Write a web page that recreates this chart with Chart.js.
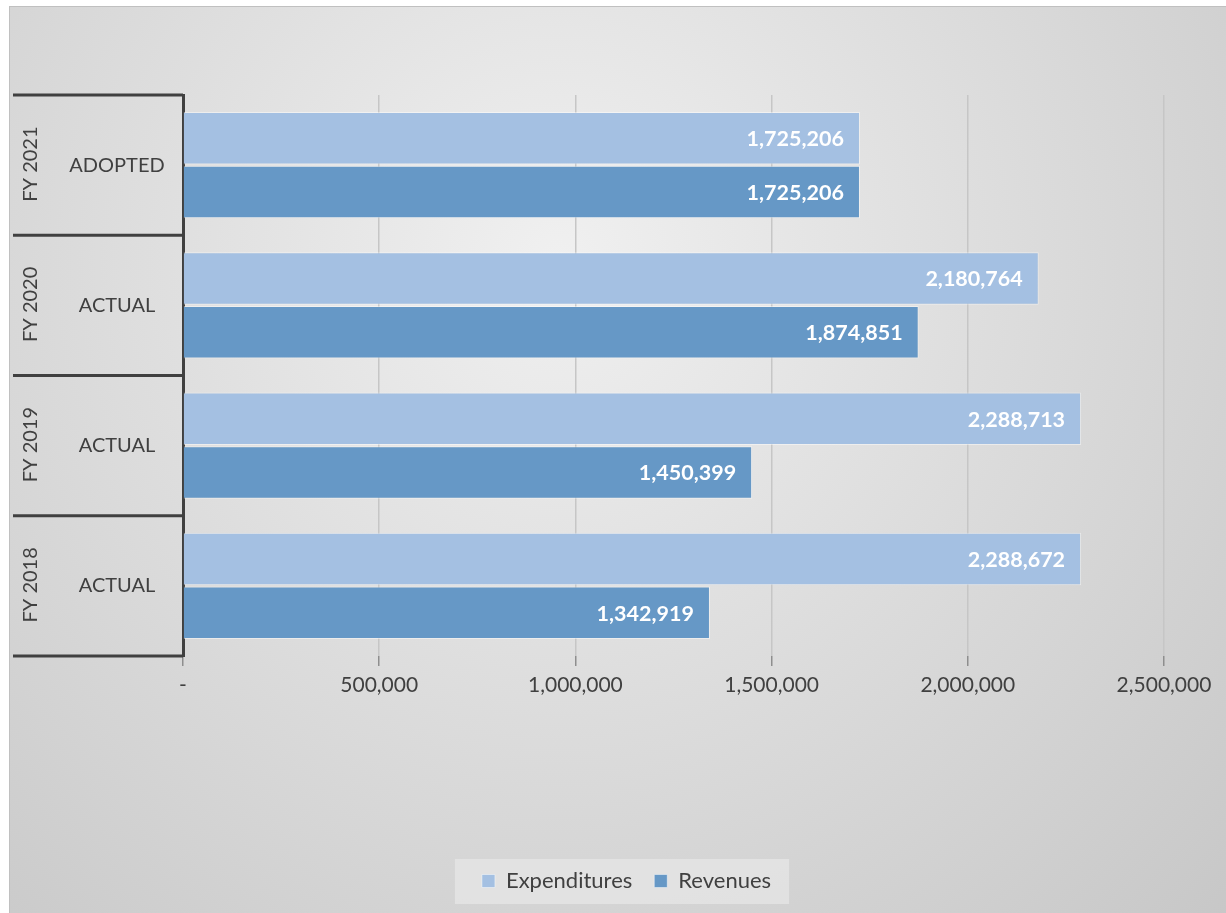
<!DOCTYPE html>
<html>
<head>
<meta charset="utf-8">
<title>Expenditures and Revenues</title>
<script src="https://cdn.jsdelivr.net/npm/chart.js@4.4.1/dist/chart.umd.min.js"></script>
<style>
    html, body { margin: 0; padding: 0; background: #ffffff; }
    #wrap {
        position: absolute; left: 9px; top: 6px;
        width: 1217px; height: 907px;
        border-top: 1px solid #c0c0c0; border-left: 1px solid #c0c0c0;
    }
</style>
</head>
<body>
<div id="wrap"><canvas id="chart"></canvas></div>
<script>
// Data (top row first)
const fiscalYears = ['FY 2021', 'FY 2020', 'FY 2019', 'FY 2018'];
const budgetTypes = ['ADOPTED', 'ACTUAL', 'ACTUAL', 'ACTUAL'];
const expenditures = [1725206, 2180764, 2288713, 2288672];
const revenues = [1725206, 1874851, 1450399, 1342919];
const xTicks = [0, 500000, 1000000, 1500000, 2000000, 2500000];

const textColor = '#404040';
const fmt = v => v === 0 ? '-' : v.toLocaleString('en-US');

document.addEventListener('DOMContentLoaded', function () {

    Chart.defaults.font.family = 'Lato';

    // Gray radial background plus the legend panel
    const backgroundPlugin = {
        id: 'background',
        afterUpdate(chart) {
            // legend sits a bit right of the plot centre in the reference
            const lg = chart.legend;
            lg.left += 38;
            lg.right += 38;
            lg.legendHitBoxes.forEach(b => { b.left += 38; });
        },
        beforeDraw(chart) {
            const ctx = chart.ctx;
            const w = chart.width, h = chart.height;
            const g = ctx.createRadialGradient(w * 0.45, h * 0.28, 0, w * 0.45, h * 0.28, w * 0.85);
            g.addColorStop(0, '#f0f0f0');
            g.addColorStop(1, '#c3c3c3');
            ctx.save();
            ctx.fillStyle = g;
            ctx.fillRect(0, 0, w, h);

            const boxes = chart.legend.legendHitBoxes;
            if (boxes && boxes.length) {
                const left = Math.min(...boxes.map(b => b.left)) - 27;
                const right = Math.max(...boxes.map(b => b.left + b.width)) + 18;
                const top = boxes[0].top - 11;
                const bottom = boxes[0].top + boxes[0].height + 12;
                ctx.fillStyle = 'rgba(236, 236, 236, 0.55)';
                ctx.fillRect(left, top, right - left, bottom - top);
            }
            ctx.restore();
        }
    };

    // Two-level category labels on the left
    const groupAxisPlugin = {
        id: 'groupAxis',
        afterDraw(chart) {
            const ctx = chart.ctx;
            const y = chart.scales.y;
            const area = chart.chartArea;
            const band = y.height / fiscalYears.length;
            ctx.save();
            ctx.strokeStyle = textColor;
            ctx.lineWidth = 3;
            for (let i = 0; i <= fiscalYears.length; i++) {
                const py = area.top + band * i;
                ctx.beginPath();
                ctx.moveTo(3, py);
                ctx.lineTo(area.left, py);
                ctx.stroke();
            }
            ctx.fillStyle = textColor;
            ctx.font = '20px Lato';
            ctx.textAlign = 'center';
            ctx.textBaseline = 'middle';
            fiscalYears.forEach((fy, i) => {
                const cy = y.getPixelForValue(i);
                ctx.fillText(budgetTypes[i], 107, cy);
                ctx.save();
                ctx.translate(21, cy - 1);
                ctx.rotate(-Math.PI / 2);
                ctx.fillText(fy, 0, 0);
                ctx.restore();
            });
            ctx.restore();
        }
    };

    // White value labels inside the bar ends
    const valueLabelPlugin = {
        id: 'valueLabels',
        afterDatasetsDraw(chart) {
            const ctx = chart.ctx;
            ctx.save();
            ctx.fillStyle = '#ffffff';
            ctx.font = 'bold 21.5px Lato';
            ctx.textAlign = 'right';
            ctx.textBaseline = 'middle';
            chart.data.datasets.forEach((ds, di) => {
                chart.getDatasetMeta(di).data.forEach((bar, i) => {
                    ctx.fillText(fmt(ds.data[i]), bar.x - 16, bar.y + 1);
                });
            });
            ctx.restore();
        }
    };

    const ctx = document.getElementById('chart').getContext('2d');
    const chart = new Chart(ctx, {
        type: 'bar',
        data: {
            labels: fiscalYears.map((fy, i) => fy + ' ' + budgetTypes[i]),
            datasets: [{
                label: 'Expenditures',
                data: expenditures,
                backgroundColor: '#a4c0e2',
                borderColor: 'rgba(255, 255, 255, 0.45)',
                borderWidth: 1
            },
            {
                label: 'Revenues',
                data: revenues,
                backgroundColor: '#6698c6',
                borderColor: 'rgba(255, 255, 255, 0.45)',
                borderWidth: 1
            }]
        },
        options: {
            indexAxis: 'y',
            responsive: true,
            maintainAspectRatio: false,
            animation: false,
            categoryPercentage: 0.765,
            barPercentage: 0.98,
            layout: { padding: { left: 3, top: 88, right: 63, bottom: 12 } },
            plugins: {
                tooltip: { enabled: false },
                legend: {
                    position: 'bottom',
                    labels: {
                        color: textColor,
                        font: { size: 22 },
                        boxWidth: 13,
                        boxHeight: 13,
                        padding: 22
                    }
                }
            },
            scales: {
                x: {
                    min: xTicks[0],
                    max: xTicks[xTicks.length - 1],
                    afterBuildTicks: s => { s.ticks = xTicks.map(v => ({ value: v })); },
                    ticks: {
                        color: textColor,
                        font: { size: 21 },
                        padding: 7,
                        maxRotation: 0,
                        callback: v => fmt(v)
                    },
                    grid: { color: '#c6c6c6', lineWidth: 1.5, tickLength: 10, tickColor: '#8e8e8e' },
                    border: { display: false },
                    afterFit: s => { s.height = 192; }
                },
                y: {
                    ticks: { display: false },
                    grid: { display: false },
                    border: { display: true, color: textColor, width: 3 },
                    afterFit: s => { s.width = 170; }
                }
            }
        },
        plugins: [backgroundPlugin, groupAxisPlugin, valueLabelPlugin]
    });
});
</script>
</body>
</html>
